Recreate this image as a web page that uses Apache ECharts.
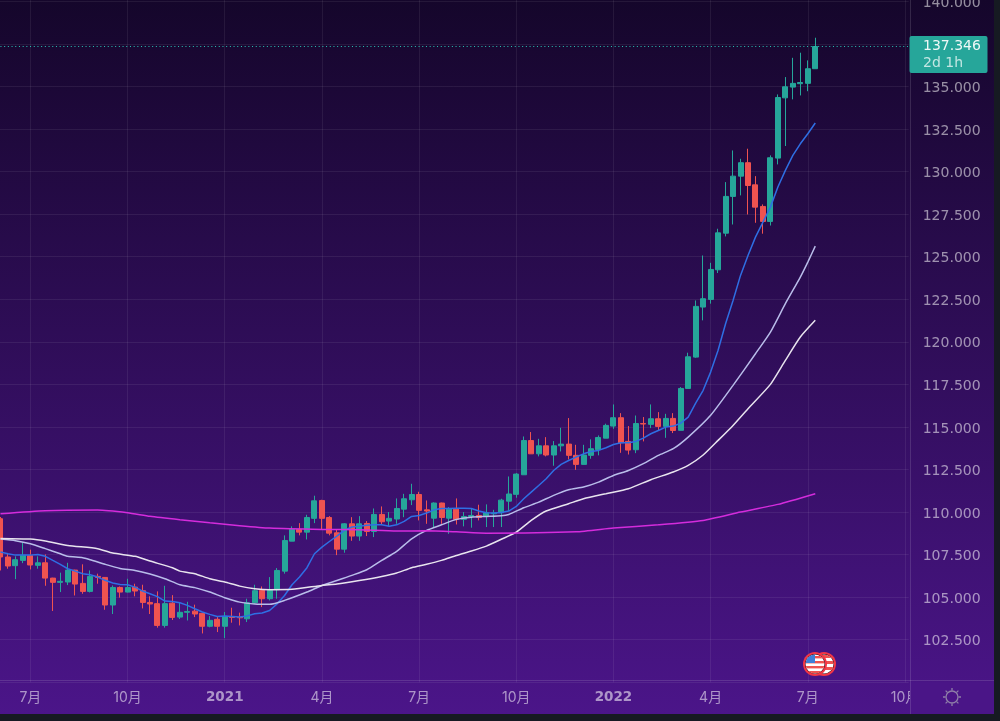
<!DOCTYPE html>
<html>
<head>
<meta charset="utf-8">
<title>USDJPY weekly</title>
<script src="https://cdn.jsdelivr.net/npm/echarts@6/dist/echarts.min.js"></script>
<style>
  html, body { margin: 0; padding: 0; background: #161a22; width: 1000px; height: 721px; overflow: hidden; }
  #chart { width: 994px; height: 714px; background: linear-gradient(180deg, #15062b 0%, #4b1589 100%); }
</style>
</head>
<body>
<div id="chart"></div>
<script>
// weekly candles
const opens = [
  109.61,107.36,106.85,107.16,107.44,106.87,107.02,106.12,105.87,105.89,
  106.59,105.81,105.34,106.22,106.16,104.54,105.57,105.30,105.59,105.38,
  104.69,104.62,103.34,104.65,103.83,104.11,104.18,104.05,103.29,103.70,
  103.29,103.85,103.83,103.73,104.67,105.40,104.91,105.44,106.53,108.29,
  108.98,108.82,109.63,110.68,109.68,108.78,107.82,109.31,108.59,109.33,
  108.86,109.86,109.47,109.59,110.17,110.72,111.03,110.13,109.64,110.53,
  109.64,110.17,109.57,109.74,109.80,109.76,109.90,109.96,110.64,111.04,
  112.19,114.20,113.42,113.89,113.35,113.89,113.99,113.33,112.80,113.33,
  113.66,114.34,115.05,115.54,114.15,113.66,115.20,115.15,115.48,115.03,
  115.50,114.80,117.26,119.10,122.04,122.49,124.23,126.38,128.54,129.73,
  130.52,129.22,127.95,127.07,130.79,134.33,134.96,135.16,135.18,136.04
];
const closes = [
  107.36,106.83,107.20,107.46,106.89,107.02,106.12,105.87,105.93,106.59,
  105.77,105.34,106.22,106.16,104.54,105.57,105.30,105.57,105.36,104.69,
  104.60,103.34,104.62,103.81,104.11,104.16,104.01,103.29,103.64,103.29,
  103.87,103.81,103.79,104.67,105.38,104.91,105.40,106.57,108.33,108.98,
  108.82,109.68,110.66,109.63,108.76,107.82,109.31,108.59,109.31,108.86,
  109.86,109.43,109.63,110.21,110.78,111.03,110.10,110.06,110.53,109.68,
  110.17,109.57,109.74,109.80,109.68,109.96,109.94,110.70,111.06,112.23,
  114.20,113.42,113.89,113.35,113.89,113.99,113.33,112.80,113.35,113.72,
  114.38,115.09,115.54,114.07,113.64,115.20,115.17,115.48,115.03,115.50,
  114.79,117.26,119.12,122.08,122.53,124.25,126.40,128.54,129.73,130.52,
  129.18,127.91,127.07,130.81,134.35,134.98,135.18,135.23,136.04,137.346
];
const lows = [
  106.57,106.67,106.06,107.00,106.63,106.67,105.67,104.19,105.30,105.71,
  105.10,105.20,105.28,105.79,104.26,104.01,104.97,105.28,105.05,104.34,
  104.01,103.21,103.21,103.66,103.72,103.63,103.83,102.87,103.23,102.95,
  102.60,103.50,103.34,103.54,104.62,104.42,104.81,104.91,106.38,108.29,
  108.63,108.39,109.35,108.96,108.63,107.47,107.61,108.31,108.31,108.59,
  108.53,109.27,109.16,109.31,109.70,110.41,109.51,109.31,109.08,109.31,
  108.72,109.27,109.16,109.08,109.51,109.12,109.12,109.12,110.05,110.84,
  112.19,113.42,113.27,113.27,112.72,113.56,113.09,112.48,112.80,113.13,
  113.33,114.34,114.89,113.48,113.38,113.46,114.15,114.93,114.79,114.36,
  114.64,114.80,117.26,119.06,121.26,122.24,124.04,126.19,126.89,128.60,
  127.48,126.99,126.35,126.83,130.42,131.50,134.24,134.47,134.72,136.04
];
const highs = [
  109.71,107.59,107.40,108.20,107.79,107.40,107.51,106.14,106.44,107.02,
  106.61,106.93,106.57,106.38,106.18,105.69,105.63,106.08,105.79,105.73,
  105.05,105.34,105.67,105.12,104.67,104.73,104.56,104.07,103.89,103.83,
  104.13,104.38,104.09,104.91,105.73,105.63,106.18,106.71,108.63,109.16,
  109.35,109.84,110.96,110.72,109.76,108.96,109.35,109.70,109.76,109.47,
  110.21,110.33,110.00,110.80,111.07,111.66,111.19,110.68,110.57,110.55,
  110.29,110.80,110.00,110.23,110.43,110.45,110.13,110.78,112.09,112.29,
  114.44,114.70,114.30,114.40,114.17,114.95,115.52,113.95,113.95,114.27,
  114.50,115.19,116.32,115.81,115.05,115.67,115.58,116.32,115.87,115.77,
  115.81,117.34,119.36,122.43,125.07,124.64,126.64,129.38,131.24,130.75,
  131.34,129.73,128.07,130.95,134.53,135.55,136.68,136.98,136.53,137.86
];

// moving averages
const blueMA = [
  107.65,107.55,107.47,107.47,107.47,107.51,107.40,107.16,106.93,106.67,
  106.53,106.38,106.32,106.18,105.99,105.83,105.75,105.73,105.59,105.36,
  105.20,105.03,104.77,104.75,104.67,104.52,104.32,104.13,103.99,103.87,
  103.89,103.87,103.83,103.90,104.03,104.07,104.22,104.61,105.10,105.73,
  106.18,106.73,107.55,107.94,108.27,108.59,108.92,109.12,109.16,109.22,
  109.25,109.25,109.16,109.25,109.45,109.74,109.80,109.94,110.13,110.21,
  110.21,110.23,110.23,110.21,110.06,109.96,109.95,109.98,110.06,110.33,
  110.78,111.17,111.56,111.96,112.44,112.80,113.03,113.23,113.42,113.56,
  113.62,113.78,113.97,114.07,114.07,114.15,114.34,114.60,114.79,114.99,
  115.05,115.22,115.58,116.40,117.15,118.22,119.50,121.06,122.43,123.90,
  125.07,126.15,127.03,127.91,129.09,130.07,130.95,131.63,132.22,132.85
];
// [week index, value] pairs, only where the line was read
const lavenderMA = [
  [0,108.41],[2,108.32],[4,108.14],[6,107.85],[8,107.55],[9,107.40],[11,107.32],[12,107.20],
  [14,106.93],[16,106.69],[18,106.57],[20,106.36],[22,106.08],[24,105.73],[26,105.56],[28,105.30],
  [30,104.97],[32,104.71],[34,104.60],[36,104.58],[38,104.81],[41,105.30],[43,105.69],[45,105.98],
  [47,106.28],[49,106.61],[51,107.16],[53,107.69],[55,108.43],[57,108.92],[59,109.25],[61,109.57],
  [63,109.70],[65,109.74],[67,109.78],[68,109.86],[70,110.25],[72,110.58],[74,110.98],[76,111.31],
  [78,111.47],[80,111.76],[82,112.15],[84,112.44],[86,112.84],[88,113.33],[90,113.72],[92,114.40],
  [95,115.68],[98,117.44],[101,119.30],[103,120.57],[105,122.24],[107,123.80],[108,124.68],[109,125.62]
];
const whiteMA = [
  [0,108.45],[4,108.41],[6,108.30],[9,108.04],[13,107.85],[15,107.59],[18,107.40],[20,107.12],
  [23,106.73],[24,106.53],[26,106.38],[28,106.08],[30,105.89],[32,105.65],[34,105.50],[36,105.44],
  [39,105.46],[43,105.69],[45,105.77],[48,105.98],[51,106.22],[53,106.42],[55,106.73],[57,106.93],
  [59,107.16],[61,107.45],[63,107.71],[65,108.00],[67,108.40],[69,108.82],[71,109.51],[73,110.06],
  [76,110.49],[78,110.78],[81,111.08],[84,111.37],[87,111.90],[90,112.35],[92,112.74],[94,113.35],
  [96,114.21],[98,115.09],[100,116.07],[103,117.50],[105,118.91],[107,120.28],[109,121.26]
];
const magentaMA = [
  [0,109.90],[6,110.08],[13,110.12],[17,109.96],[20,109.75],[24,109.55],[28,109.37],[32,109.20],
  [36,109.06],[43,108.98],[48,108.96],[53,108.88],[57,108.90],[61,108.84],[65,108.76],[77,108.84],
  [82,109.06],[88,109.25],[94,109.51],[99,110.00],[104,110.45],[109,111.08]
];

const lastPrice = 137.346;
const countdown = '2d 1h';

// x axis: 122 weekly slots, labels only on the quarter starts
const slotCount = 122;
const tickSlots = [4, 17, 30, 43, 56, 69, 82, 95, 108, 121];
const tickLabels = ['7月', '10月', '2021', '4月', '7月', '10月', '2022', '4月', '7月', '10月'];
const categories = [];
for (let i = 0; i < slotCount; i++) {
  const t = tickSlots.indexOf(i);
  categories.push(t >= 0 ? tickLabels[t] : '');
}

const UP = '#26a69a';
const DOWN = '#ef5350';
const FONT = 'Inter, "Noto Sans CJK JP", sans-serif';
const NUM_FONT = '"DejaVu Sans", sans-serif';
const TICK_COLOR = 'rgba(255,255,255,0.55)';
const GRID_LINE = 'rgba(255,255,255,0.07)';
const isTick = (i) => tickSlots.indexOf(i) >= 0;

const flagSvg = '<svg xmlns="http://www.w3.org/2000/svg" width="40" height="28" viewBox="0 0 40 28">' +
  '<defs><clipPath id="a"><circle cx="14" cy="14" r="9.5"/></clipPath><clipPath id="b"><circle cx="23" cy="14" r="9.5"/></clipPath></defs>' +
  '<circle cx="23" cy="14" r="12" fill="#f23645"/><circle cx="23" cy="14" r="10" fill="#1a1020"/>' +
  '<g clip-path="url(#b)"><rect x="12" y="3" width="24" height="22" fill="#fff"/>' +
  '<rect x="12" y="5" width="24" height="3" fill="#ef5350"/><rect x="12" y="11" width="24" height="3" fill="#ef5350"/>' +
  '<rect x="12" y="17" width="24" height="3" fill="#ef5350"/></g>' +
  '<circle cx="14" cy="14" r="12" fill="#f23645"/><circle cx="14" cy="14" r="10" fill="#1a1020"/>' +
  '<g clip-path="url(#a)"><rect x="3" y="3" width="22" height="22" fill="#fff"/>' +
  '<rect x="3" y="6" width="22" height="2.4" fill="#ef5350"/><rect x="3" y="11" width="22" height="2.4" fill="#ef5350"/>' +
  '<rect x="3" y="16" width="22" height="2.4" fill="#ef5350"/><rect x="3" y="21" width="22" height="2.4" fill="#ef5350"/>' +
  '<rect x="3" y="3" width="11" height="10" fill="#3f7fd8"/></g></svg>';

const gearSvg = '<svg xmlns="http://www.w3.org/2000/svg" width="20" height="20" viewBox="-10 -10 20 20">' +
  '<circle r="6" fill="none" stroke="#8f7fa8" stroke-width="1.3"/>' +
  '<g stroke="#8f7fa8" stroke-width="1.3">' +
  '<path d="M0-6.5V-9M0 6.5V9M-6.5 0H-9M6.5 0H9M4.6-4.6L6.4-6.4M-4.6 4.6L-6.4 6.4M4.6 4.6L6.4 6.4M-4.6-4.6L-6.4-6.4"/></g></svg>';
const svgUrl = (s) => 'data:image/svg+xml;charset=utf-8,' + encodeURIComponent(s);

const chart = echarts.init(document.getElementById('chart'));

function lineSeries(name, data, color, smooth) {
  return {
    name: name,
    type: 'line',
    data: data,
    showSymbol: false,
    silent: true,
    smooth: smooth,
    z: 5,
    lineStyle: { color: color, width: 1.5 }
  };
}

chart.setOption({
  animation: false,
  // one price unit is about 17px, week slots about 7.5px
  grid: { left: -3.24, top: -41.26, width: 911.95, height: 723.56, outerBoundsMode: 'none' },
  xAxis: {
    type: 'category',
    data: categories,
    axisLine: { show: false },
    axisTick: { show: false },
    splitLine: { show: true, alignWithLabel: true, interval: isTick, lineStyle: { color: GRID_LINE } },
    axisLabel: {
      interval: isTick,
      margin: 8,
      hideOverlap: false,
      fontFamily: FONT,
      fontSize: 14,
      color: TICK_COLOR,
      formatter: (v) => (/^20/.test(v) ? '{b|' + v + '}' : v),
      rich: { b: { fontFamily: NUM_FONT, fontSize: 13.5, fontWeight: 'bold', color: TICK_COLOR } }
    }
  },
  yAxis: {
    type: 'value',
    position: 'right',
    min: 100,
    max: 142.5,
    interval: 2.5,
    axisLine: { show: false },
    axisTick: { show: false },
    splitLine: { show: true, lineStyle: { color: GRID_LINE } },
    axisLabel: {
      margin: 14,
      showMinLabel: false,
      color: TICK_COLOR,
      formatter: (v) => '{n|' + v.toFixed(3) + '}',
      // top padding pushes the numbers a bit below their grid line
      rich: { n: { fontFamily: NUM_FONT, fontSize: 14, color: TICK_COLOR, padding: [4, 0, 0, 0] } }
    }
  },
  series: [
    {
      type: 'candlestick',
      barWidth: 5.5,
      z: 3,
      data: opens.map((o, i) => [o, closes[i], lows[i], highs[i]]),
      itemStyle: { color: UP, color0: DOWN, borderColor: UP, borderColor0: DOWN, borderWidth: 1 },
      markLine: {
        silent: true,
        symbol: 'none',
        label: { show: false },
        lineStyle: { color: '#2bc4b6', type: [1, 2.7], width: 1 },
        data: [{ yAxis: lastPrice }]
      }
    },
    lineSeries('MA blue', blueMA, '#2f6fe4', false),
    lineSeries('MA lavender', lavenderMA, '#b9bdea', 0.2),
    lineSeries('MA white', whiteMA, '#e8e4ee', 0.2),
    lineSeries('MA magenta', magentaMA, '#d42cdc', 0.2)
  ],
  graphic: [
    // hides the part of the last tick label that runs under the price scale
    { type: 'rect', z: 50, shape: { x: 910, y: 682, width: 84, height: 32 }, style: { fill: '#4a1587' } },
    { type: 'line', z: 51, shape: { x1: 910.5, y1: 0, x2: 910.5, y2: 714 }, style: { stroke: 'rgba(255,255,255,0.13)', lineWidth: 1 } },
    { type: 'line', z: 51, shape: { x1: 0, y1: 680.5, x2: 994, y2: 680.5 }, style: { stroke: 'rgba(255,255,255,0.13)', lineWidth: 1 } },
    { type: 'rect', z: 60, shape: { x: 909.5, y: 36, width: 78, height: 37, r: 2 }, style: { fill: UP } },
    { type: 'text', z: 61, x: 923, y: 46, style: { text: lastPrice.toFixed(3), fill: 'rgba(255,255,255,0.92)', font: '14px ' + NUM_FONT, textVerticalAlign: 'middle' } },
    { type: 'text', z: 61, x: 923, y: 63, style: { text: countdown, fill: 'rgba(255,255,255,0.72)', font: '14px ' + NUM_FONT, textVerticalAlign: 'middle' } },
    { type: 'image', z: 61, x: 801, y: 650, style: { image: svgUrl(flagSvg), width: 40, height: 28 } },
    { type: 'image', z: 61, x: 942, y: 687, style: { image: svgUrl(gearSvg), width: 20, height: 20 } }
  ]
});
</script>
</body>
</html>
